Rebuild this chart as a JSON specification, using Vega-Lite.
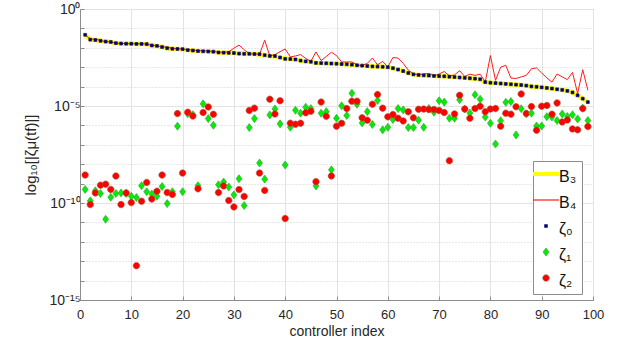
{
  "$schema": "https://vega.github.io/schema/vega-lite/v6.json",
  "width": 513,
  "height": 291,
  "autosize": {"type": "none"},
  "padding": {"left": 80, "top": 9, "right": 28, "bottom": 49},
  "background": "white",
  "config": {
    "font": "Liberation Sans",
    "view": {"stroke": "#8c8c8c", "strokeWidth": 1},
    "axis": {"domainColor": "#8c8c8c", "tickColor": "#8c8c8c", "labelColor": "#262626", "titleColor": "#262626", "titleFontWeight": "normal", "labelFlush": false, "labelOverlap": false},
    "legend": {"orient": "none", "legendX": 453, "legendY": 152, "symbolSize": 676, "labelFontSize": 16, "labelColor": "#111111", "padding": 5, "rowPadding": 7, "fillColor": "white", "strokeColor": "#8c8c8c", "cornerRadius": 0, "labelOffset": 5}
  },
  "data": {"values": [
    {"i":1,"B₃":-1.33,"B₄":-1.33,"ζ₀":-1.33,"ζ₁":-9.30,"ζ₂":-8.56},
    {"i":2,"B₃":-1.58,"B₄":-1.55,"ζ₀":-1.58,"ζ₁":-9.89,"ζ₂":-10.08},
    {"i":3,"B₃":-1.60,"B₄":-1.55,"ζ₀":-1.60,"ζ₁":-9.37,"ζ₂":-9.48},
    {"i":4,"B₃":-1.64,"B₄":-1.62,"ζ₀":-1.64,"ζ₁":-9.51,"ζ₂":-9.08},
    {"i":5,"B₃":-1.68,"B₄":-1.68,"ζ₀":-1.68,"ζ₁":-10.84,"ζ₂":-9.03},
    {"i":6,"B₃":-1.70,"B₄":-1.70,"ζ₀":-1.70,"ζ₁":-9.70,"ζ₂":-9.30},
    {"i":7,"B₃":-1.76,"B₄":-1.76,"ζ₀":-1.76,"ζ₁":-9.51,"ζ₂":-8.61},
    {"i":8,"B₃":-1.78,"B₄":-1.78,"ζ₀":-1.78,"ζ₁":-9.48,"ζ₂":-10.08},
    {"i":9,"B₃":-1.79,"B₄":-1.78,"ζ₀":-1.79,"ζ₁":-9.51,"ζ₂":-9.48},
    {"i":10,"B₃":-1.79,"B₄":-1.79,"ζ₀":-1.79,"ζ₁":-9.65,"ζ₂":-9.98},
    {"i":11,"B₃":-1.80,"B₄":-1.79,"ζ₀":-1.80,"ζ₁":-9.72,"ζ₂":-13.23},
    {"i":12,"B₃":-1.80,"B₄":-1.79,"ζ₀":-1.80,"ζ₁":-9.11,"ζ₂":-9.91},
    {"i":13,"B₃":-1.81,"B₄":-1.81,"ζ₀":-1.81,"ζ₁":-9.42,"ζ₂":-8.94},
    {"i":14,"B₃":-1.88,"B₄":-1.87,"ζ₀":-1.88,"ζ₁":-9.54,"ζ₂":-9.80},
    {"i":15,"B₃":-1.90,"B₄":-1.90,"ζ₀":-1.90,"ζ₁":-9.65,"ζ₂":-9.39},
    {"i":16,"B₃":-1.96,"B₄":-1.95,"ζ₀":-1.96,"ζ₁":-9.15,"ζ₂":-8.56},
    {"i":17,"B₃":-2.02,"B₄":-1.97,"ζ₀":-2.02,"ζ₁":-10.03,"ζ₂":-9.46},
    {"i":18,"B₃":-2.05,"B₄":-2.03,"ζ₀":-2.05,"ζ₁":-9.42,"ζ₂":-9.56},
    {"i":19,"B₃":-2.06,"B₄":-2.05,"ζ₀":-2.06,"ζ₁":-6.04,"ζ₂":-5.39},
    {"i":20,"B₃":-2.07,"B₄":-2.06,"ζ₀":-2.07,"ζ₁":-9.42,"ζ₂":-8.46},
    {"i":21,"B₃":-2.12,"B₄":-2.10,"ζ₀":-2.12,"ζ₁":-5.40,"ζ₂":-5.32},
    {"i":22,"B₃":-2.14,"B₄":-2.12,"ζ₀":-2.14,"ζ₁":-5.45,"ζ₂":-5.52},
    {"i":23,"B₃":-2.17,"B₄":-2.15,"ζ₀":-2.17,"ζ₁":-9.11,"ζ₂":-9.27},
    {"i":24,"B₃":-2.18,"B₄":-2.15,"ζ₀":-2.18,"ζ₁":-4.89,"ζ₂":-5.34},
    {"i":25,"B₃":-2.19,"B₄":-2.17,"ζ₀":-2.19,"ζ₁":-5.65,"ζ₂":-5.05},
    {"i":26,"B₃":-2.20,"B₄":-2.19,"ζ₀":-2.20,"ζ₁":-5.99,"ζ₂":-5.43},
    {"i":27,"B₃":-2.24,"B₄":-2.22,"ζ₀":-2.24,"ζ₁":-9.06,"ζ₂":-9.46},
    {"i":28,"B₃":-2.25,"B₄":-2.24,"ζ₀":-2.25,"ζ₁":-8.92,"ζ₂":-9.12},
    {"i":29,"B₃":-2.26,"B₄":-2.20,"ζ₀":-2.26,"ζ₁":-9.18,"ζ₂":-9.87},
    {"i":30,"B₃":-2.27,"B₄":-2.02,"ζ₀":-2.27,"ζ₁":-9.58,"ζ₂":-10.20},
    {"i":31,"B₃":-2.30,"B₄":-1.86,"ζ₀":-2.30,"ζ₁":-8.75,"ζ₂":-9.31},
    {"i":32,"B₃":-2.31,"B₄":-2.10,"ζ₀":-2.31,"ζ₁":-10.13,"ζ₂":-9.66},
    {"i":33,"B₃":-2.31,"B₄":-2.31,"ζ₀":-2.31,"ζ₁":-6.11,"ζ₂":-5.23},
    {"i":34,"B₃":-2.32,"B₄":-2.32,"ζ₀":-2.32,"ζ₁":-5.65,"ζ₂":-5.11},
    {"i":35,"B₃":-2.33,"B₄":-2.33,"ζ₀":-2.33,"ζ₁":-7.94,"ζ₂":-8.46},
    {"i":36,"B₃":-2.38,"B₄":-1.61,"ζ₀":-2.38,"ζ₁":-8.77,"ζ₂":-9.35},
    {"i":37,"B₃":-2.42,"B₄":-2.42,"ζ₀":-2.42,"ζ₁":-5.46,"ζ₂":-4.65},
    {"i":38,"B₃":-2.43,"B₄":-2.35,"ζ₀":-2.43,"ζ₁":-5.15,"ζ₂":-5.41},
    {"i":39,"B₃":-2.50,"B₄":-2.20,"ζ₀":-2.50,"ζ₁":-5.92,"ζ₂":-4.73},
    {"i":40,"B₃":-2.57,"B₄":-2.06,"ζ₀":-2.57,"ζ₁":-8.04,"ζ₂":-10.80},
    {"i":41,"B₃":-2.58,"B₄":-2.47,"ζ₀":-2.58,"ζ₁":-6.10,"ζ₂":-5.89},
    {"i":42,"B₃":-2.60,"B₄":-2.42,"ζ₀":-2.60,"ζ₁":-5.22,"ζ₂":-5.94},
    {"i":43,"B₃":-2.66,"B₄":-2.35,"ζ₀":-2.66,"ζ₁":-5.37,"ζ₂":-5.89},
    {"i":44,"B₃":-2.70,"B₄":-2.55,"ζ₀":-2.70,"ζ₁":-5.06,"ζ₂":-5.35},
    {"i":45,"B₃":-2.72,"B₄":-2.70,"ζ₀":-2.72,"ζ₁":-5.13,"ζ₂":-5.27},
    {"i":46,"B₃":-2.78,"B₄":-2.21,"ζ₀":-2.78,"ζ₁":-9.12,"ζ₂":-8.90},
    {"i":47,"B₃":-2.79,"B₄":-2.66,"ζ₀":-2.79,"ζ₁":-5.37,"ζ₂":-4.80},
    {"i":48,"B₃":-2.80,"B₄":-2.45,"ζ₀":-2.80,"ζ₁":-5.29,"ζ₂":-5.53},
    {"i":49,"B₃":-2.81,"B₄":-2.23,"ζ₀":-2.81,"ζ₁":-8.29,"ζ₂":-8.61},
    {"i":50,"B₃":-2.82,"B₄":-2.40,"ζ₀":-2.82,"ζ₁":-5.63,"ζ₂":-6.04},
    {"i":51,"B₃":-2.84,"B₄":-2.73,"ζ₀":-2.84,"ζ₁":-4.99,"ζ₂":-5.89},
    {"i":52,"B₃":-2.85,"B₄":-2.73,"ζ₀":-2.85,"ζ₁":-5.49,"ζ₂":-5.13},
    {"i":53,"B₃":-2.87,"B₄":-2.73,"ζ₀":-2.87,"ζ₁":-4.34,"ζ₂":-4.75},
    {"i":54,"B₃":-2.90,"B₄":-2.88,"ζ₀":-2.90,"ζ₁":-4.91,"ζ₂":-4.75},
    {"i":55,"B₃":-2.92,"B₄":-2.92,"ζ₀":-2.92,"ζ₁":-5.87,"ζ₂":-5.61},
    {"i":56,"B₃":-2.94,"B₄":-2.80,"ζ₀":-2.94,"ζ₁":-5.29,"ζ₂":-5.73},
    {"i":57,"B₃":-2.96,"B₄":-2.53,"ζ₀":-2.96,"ζ₁":-5.95,"ζ₂":-4.91},
    {"i":58,"B₃":-2.97,"B₄":-2.88,"ζ₀":-2.97,"ζ₁":-4.72,"ζ₂":-4.41},
    {"i":59,"B₃":-2.98,"B₄":-2.70,"ζ₀":-2.98,"ζ₁":-6.23,"ζ₂":-5.11},
    {"i":60,"B₃":-3.00,"B₄":-2.99,"ζ₀":-3.00,"ζ₁":-6.10,"ζ₂":-5.56},
    {"i":61,"B₃":-3.05,"B₄":-2.50,"ζ₀":-3.05,"ζ₁":-5.70,"ζ₂":-5.44},
    {"i":62,"B₃":-3.12,"B₄":-2.53,"ζ₀":-3.12,"ζ₁":-5.13,"ζ₂":-5.63},
    {"i":63,"B₃":-3.20,"B₄":-2.80,"ζ₀":-3.20,"ζ₁":-5.20,"ζ₂":-5.77},
    {"i":64,"B₃":-3.30,"B₄":-3.15,"ζ₀":-3.30,"ζ₁":-6.11,"ζ₂":-5.30},
    {"i":65,"B₃":-3.37,"B₄":-3.35,"ζ₀":-3.37,"ζ₁":-6.11,"ζ₂":-5.61},
    {"i":66,"B₃":-3.40,"B₄":-3.38,"ζ₀":-3.40,"ζ₁":-5.73,"ζ₂":-5.17},
    {"i":67,"B₃":-3.42,"B₄":-3.35,"ζ₀":-3.42,"ζ₁":-6.10,"ζ₂":-5.16},
    {"i":68,"B₃":-3.43,"B₄":-3.32,"ζ₀":-3.43,"ζ₁":-5.13,"ζ₂":-5.18},
    {"i":69,"B₃":-3.45,"B₄":-3.44,"ζ₀":-3.45,"ζ₁":-5.32,"ζ₂":-5.18},
    {"i":70,"B₃":-3.46,"B₄":-3.35,"ζ₀":-3.46,"ζ₁":-4.73,"ζ₂":-5.23},
    {"i":71,"B₃":-3.47,"B₄":-3.22,"ζ₀":-3.47,"ζ₁":-4.80,"ζ₂":-5.34},
    {"i":72,"B₃":-3.49,"B₄":-3.45,"ζ₀":-3.49,"ζ₁":-5.63,"ζ₂":-7.82},
    {"i":73,"B₃":-3.51,"B₄":-3.40,"ζ₀":-3.51,"ζ₁":-5.63,"ζ₂":-5.41},
    {"i":74,"B₃":-3.53,"B₄":-3.18,"ζ₀":-3.53,"ζ₁":-4.68,"ζ₂":-4.45},
    {"i":75,"B₃":-3.55,"B₄":-3.48,"ζ₀":-3.55,"ζ₁":-5.15,"ζ₂":-5.16},
    {"i":76,"B₃":-3.57,"B₄":-3.36,"ζ₀":-3.57,"ζ₁":-5.36,"ζ₂":-5.63},
    {"i":77,"B₃":-3.59,"B₄":-3.42,"ζ₀":-3.59,"ζ₁":-4.42,"ζ₂":-5.13},
    {"i":78,"B₃":-3.62,"B₄":-3.36,"ζ₀":-3.62,"ζ₁":-4.65,"ζ₂":-5.01},
    {"i":79,"B₃":-3.77,"B₄":-3.76,"ζ₀":-3.77,"ζ₁":-5.57,"ζ₂":-5.29},
    {"i":80,"B₃":-3.80,"B₄":-2.40,"ζ₀":-3.80,"ζ₁":-5.89,"ζ₂":-5.16},
    {"i":81,"B₃":-3.82,"B₄":-3.68,"ζ₀":-3.82,"ζ₁":-6.96,"ζ₂":-5.13},
    {"i":82,"B₃":-3.84,"B₄":-3.00,"ζ₀":-3.84,"ζ₁":-5.76,"ζ₂":-6.04},
    {"i":83,"B₃":-3.86,"B₄":-2.90,"ζ₀":-3.86,"ζ₁":-4.81,"ζ₂":-5.37},
    {"i":84,"B₃":-3.88,"B₄":-3.56,"ζ₀":-3.88,"ζ₁":-4.77,"ζ₂":-5.42},
    {"i":85,"B₃":-3.90,"B₄":-3.58,"ζ₀":-3.90,"ζ₁":-6.49,"ζ₂":-5.04},
    {"i":86,"B₃":-3.92,"B₄":-3.50,"ζ₀":-3.92,"ζ₁":-5.14,"ζ₂":-4.38},
    {"i":87,"B₃":-3.95,"B₄":-3.42,"ζ₀":-3.95,"ζ₁":-5.40,"ζ₂":-5.39},
    {"i":88,"B₃":-3.99,"B₄":-3.08,"ζ₀":-3.99,"ζ₁":-5.37,"ζ₂":-5.03},
    {"i":89,"B₃":-4.01,"B₄":-3.04,"ζ₀":-4.01,"ζ₁":-6.03,"ζ₂":-6.25},
    {"i":90,"B₃":-4.04,"B₄":-3.30,"ζ₀":-4.04,"ζ₁":-6.03,"ζ₂":-5.01},
    {"i":91,"B₃":-4.07,"B₄":-3.55,"ζ₀":-4.07,"ζ₁":-5.55,"ζ₂":-4.97},
    {"i":92,"B₃":-4.10,"B₄":-3.77,"ζ₀":-4.10,"ζ₁":-5.57,"ζ₂":-5.42},
    {"i":93,"B₃":-4.14,"B₄":-3.35,"ζ₀":-4.14,"ζ₁":-5.75,"ζ₂":-4.84},
    {"i":94,"B₃":-4.17,"B₄":-3.50,"ζ₀":-4.17,"ζ₁":-5.41,"ζ₂":-5.82},
    {"i":95,"B₃":-4.22,"B₄":-3.64,"ζ₀":-4.22,"ζ₁":-5.54,"ζ₂":-5.72},
    {"i":96,"B₃":-4.30,"B₄":-3.27,"ζ₀":-4.30,"ζ₁":-5.45,"ζ₂":-6.18},
    {"i":97,"B₃":-4.45,"B₄":-4.35,"ζ₀":-4.45,"ζ₁":-5.67,"ζ₂":-6.23},
    {"i":98,"B₃":-4.62,"B₄":-3.13,"ζ₀":-4.62,"ζ₁":-5.11,"ζ₂":-5.13},
    {"i":99,"B₃":-4.80,"B₄":-4.19,"ζ₀":-4.80,"ζ₁":-5.75,"ζ₂":-6.06}
  ]},
  "transform": [{"fold": ["B₃", "B₄", "ζ₀", "ζ₁", "ζ₂"], "as": ["series", "v"]}],
  "encoding": {
    "x": {"field": "i", "type": "quantitative", "title": "controller index",
      "scale": {"domain": [0, 100], "nice": false},
      "axis": {"values": [0,10,20,30,40,50,60,70,80,90,100], "grid": true, "gridColor": "#e3e3e3", "tickSize": -4, "labelFontSize": 13, "labelPadding": 12, "titleFontSize": 14, "titlePadding": 3}},
    "y": {"field": "v", "type": "quantitative", "title": "log₁₀[|ζμ(tf)|]",
      "scale": {"domain": [-15, 0], "nice": false},
      "axis": {"values": [-15,-14,-13,-12,-11,-10,-9,-8,-7,-6,-5,-4,-3,-2,-1,0], "grid": true,
        "gridColor": {"condition": {"test": "datum.value % 5 === 0", "value": "#e3e3e3"}, "value": "#d0d0d0"},
        "gridDash": {"condition": {"test": "datum.value % 5 === 0", "value": []}, "value": [1, 2]},
        "labelExpr": "datum.value === 0 ? '10⁰' : datum.value === -5 ? '10⁻⁵' : datum.value === -10 ? '10⁻¹⁰' : datum.value === -15 ? '10⁻¹⁵' : ''",
        "tickSize": -4, "labelFontSize": 14, "labelPadding": 4, "titleFontSize": 15, "titleX": -50, "titleBaseline": "middle"}},
    "stroke": {"field": "series", "type": "nominal", "title": null,
      "scale": {"domain": ["B₃", "B₄", "ζ₀", "ζ₁", "ζ₂"], "range": ["#ffff00", "#ff1a1a", "#000080", "#3c9a3c", "#a0522d"]},
      "legend": {"orient": "none", "legendX": 453, "legendY": 152, "labelFontSize": 16, "padding": 5, "rowPadding": 7, "fillColor": "white", "strokeColor": "#8c8c8c", "labelOffset": 5, "encode": {"labels": {"update": {"dy": {"value": 3}}}, "symbols": {"update": {"strokeWidth": {"signal": "datum.value === 'B₃' ? 4 : datum.value === 'B₄' ? 1.2 : 0.6"}}}}}}
  },
  "layer": [
    {"transform": [{"filter": "datum.series === 'B₃'"}], "mark": {"type": "line", "strokeWidth": 4.5}},
    {"transform": [{"filter": "datum.series === 'B₄'"}], "mark": {"type": "line", "strokeWidth": 1}},
    {"transform": [{"filter": "datum.series === 'ζ₀' || datum.series === 'ζ₁' || datum.series === 'ζ₂'"}],
      "mark": {"type": "point", "filled": true, "size": 676, "strokeWidth": 0.6, "opacity": 1},
      "encoding": {
        "shape": {"field": "series", "type": "nominal", "title": null,
          "scale": {"domain": ["B₃", "B₄", "ζ₀", "ζ₁", "ζ₂"], "range": ["stroke", "stroke", "M-0.11,-0.11L0.11,-0.11L0.11,0.11L-0.11,0.11Z", "M0,-0.31L0.23,0L0,0.31L-0.23,0Z", "M-0.25,0A0.25,0.25,0,1,1,0.25,0A0.25,0.25,0,1,1,-0.25,0Z"]},
          "legend": {"orient": "none", "legendX": 453, "legendY": 152, "labelFontSize": 16, "padding": 5, "rowPadding": 7, "fillColor": "white", "strokeColor": "#8c8c8c", "labelOffset": 5, "encode": {"labels": {"update": {"dy": {"value": 3}}}, "symbols": {"update": {"strokeWidth": {"signal": "datum.value === 'B₃' ? 4 : datum.value === 'B₄' ? 1.2 : 0.6"}}}}}},
        "fill": {"field": "series", "type": "nominal", "title": null,
          "scale": {"domain": ["B₃", "B₄", "ζ₀", "ζ₁", "ζ₂"], "range": ["transparent", "transparent", "#000080", "#00ee00", "#ff0000"]},
          "legend": {"orient": "none", "legendX": 453, "legendY": 152, "labelFontSize": 16, "padding": 5, "rowPadding": 7, "fillColor": "white", "strokeColor": "#8c8c8c", "labelOffset": 5, "encode": {"labels": {"update": {"dy": {"value": 3}}}, "symbols": {"update": {"strokeWidth": {"signal": "datum.value === 'B₃' ? 4 : datum.value === 'B₄' ? 1.2 : 0.6"}}}}}}
      }}
  ]
}
